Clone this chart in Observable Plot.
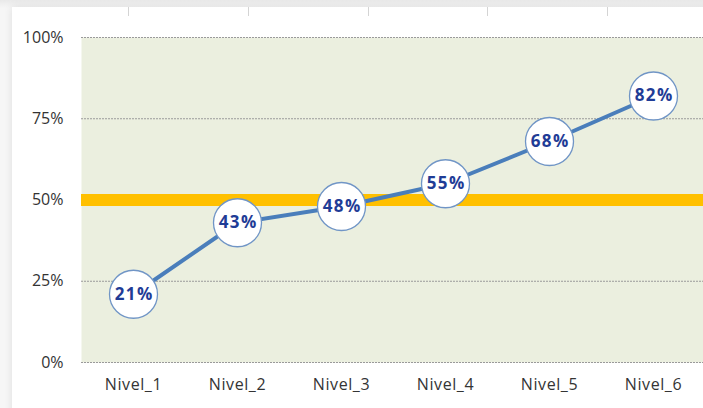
<!DOCTYPE html>
<html>
<head>
<meta charset="utf-8">
<script src="https://cdn.jsdelivr.net/npm/d3@7"></script>
<script src="https://cdn.jsdelivr.net/npm/@observablehq/plot@0.6"></script>
<style>
  html, body { margin: 0; padding: 0; background: #f4f4f4; overflow: hidden; }
  #wrap { position: relative; width: 703px; height: 408px; overflow: hidden; background: linear-gradient(#e9e9e9, #f6f6f6 8px); }
  #card { position: absolute; left: 12px; top: 7px; width: 720px; height: 420px; background: #ffffff; box-shadow: 0 0 8px rgba(0,0,0,0.10); }
  .colmark { position: absolute; top: 7px; width: 1px; height: 9px; background: #d4d4d4; }
  #chart { position: absolute; left: 0; top: 0; }
</style>
</head>
<body>
<div id="wrap">
  <div id="card"></div>
  <div id="chart"></div>
</div>
<script>
const categories = ["Nivel_1", "Nivel_2", "Nivel_3", "Nivel_4", "Nivel_5", "Nivel_6"];
const values = [0.21, 0.43, 0.48, 0.55, 0.68, 0.82];
const yTicks = [0, 0.25, 0.5, 0.75, 1];
const threshold = [0.5];
const columnMarks = [128, 248, 368, 487, 607];

const wrap = document.getElementById("wrap");
for (const x of columnMarks) {
  const d = document.createElement("div");
  d.className = "colmark";
  d.style.left = x + "px";
  wrap.appendChild(d);
}

const data = categories.map((c, i) => ({cat: c, v: values[i]}));
const pct = d3.format(".0%");
const labelColor = "#1f3c96";

const chart = Plot.plot({
  width: 703,
  height: 408,
  marginLeft: 81,
  marginRight: 0,
  marginTop: 37,
  marginBottom: 46,
  style: {background: "transparent", fontFamily: "'Open Sans', sans-serif", overflow: "visible"},
  x: {type: "point", domain: categories, range: [81, 705], padding: 0.5, label: null},
  y: {domain: [0, 1], label: null},
  marks: [
    Plot.frame({fill: "#ebefdf", stroke: null}),
    Plot.gridY(yTicks, {stroke: "#9a9a9a", strokeOpacity: 1, strokeWidth: 1, strokeDasharray: "2,1"}),
    Plot.ruleY(threshold, {stroke: "#ffc000", strokeWidth: 12}),
    Plot.axisY(yTicks, {tickSize: 0, tickPadding: 18, tickFormat: pct, fontSize: 16, fill: "#333333", label: null}),
    Plot.axisX(categories, {tickSize: 0, tickPadding: 16, fontSize: 16, fill: "#343434", label: null}),
    Plot.line(data, {x: "cat", y: "v", stroke: "#4a7ebb", strokeWidth: 4}),
    Plot.dot(data, {x: "cat", y: "v", r: 24, fill: "white", stroke: "#7095c6", strokeWidth: 1.3}),
    Plot.text(data, {x: "cat", y: "v", text: d => pct(d.v), fill: labelColor, fontSize: 17, fontWeight: "bold", fontFamily: "'Open Sans', sans-serif"})
  ]
});
chart.querySelectorAll("g").forEach(g => {
  const f = g.getAttribute("fill");
  if (f === labelColor) {
    g.style.letterSpacing = "1.5px";
    g.querySelectorAll("text").forEach(t => t.setAttribute("dx", "0.75"));
  } else if (f === "#343434") {
    g.style.letterSpacing = "0.6px";
  }
});
document.getElementById("chart").appendChild(chart);
</script>
</body>
</html>
